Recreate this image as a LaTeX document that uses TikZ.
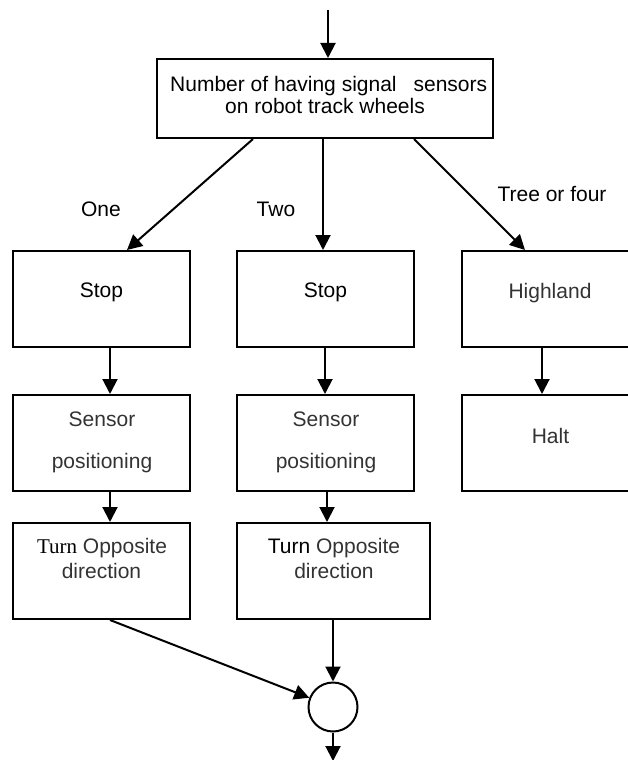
\documentclass[tikz,border=0pt]{standalone}
\usepackage{fontspec}
\setmainfont{Liberation Sans}
\newfontfamily\serifpart{Liberation Serif}
\usetikzlibrary{arrows.meta}
\begin{document}
\begin{tikzpicture}[x=1pt,y=-1pt,
  box/.style={draw, line width=2pt, rectangle, inner sep=0pt,
              minimum height=96pt, minimum width=177pt},
  txt/.style={anchor=base, inner sep=0pt, font=\fontsize{21}{24}\selectfont},
  soft/.style={text=black!80},
  flow/.style={line width=2pt, -{Triangle[length=15pt,width=15pt]}},
]
\useasboundingbox (0,0) rectangle (628,760);
\clip (0,0) rectangle (628,760);

% boxes
\node[box, minimum width=336pt, minimum height=79pt] (top) at (325,98.5) {};
\node[box] (s1) at (101.5,299) {};
\node[box] (s2) at (325.5,299) {};
\node[box] (hl) at (550.5,299) {};
\node[box] (p1) at (101.5,443) {};
\node[box] (p2) at (325.5,443) {};
\node[box] (ht) at (550.5,443) {};
\node[box] (t1) at (101.5,571) {};
\node[box, minimum width=193pt] (t2) at (333.5,571) {};
\node[draw, line width=2pt, circle, minimum size=49pt, inner sep=0pt] (c) at (333,707) {};

% texts
\node[txt, anchor=base west] (top1) at (170,92) {Number of having signal\hspace{17pt}sensors};
\node[txt] (top2) at (325,113.5) {on robot track wheels};
\node[txt] (lone) at (101,216) {One};
\node[txt] (ltwo) at (276,216) {Two};
\node[txt] (lthree) at (552,201) {Tree or four};
\node[txt] (x1) at (101.5,297) {Stop};
\node[txt] (x2) at (325.5,297) {Stop};
\node[txt, soft] (x3) at (550,298) {Highland};
\node[txt, soft] (y1a) at (102,426) {Sensor};
\node[txt, soft] (y1b) at (102,468) {positioning};
\node[txt, soft] (y2a) at (326,426) {Sensor};
\node[txt, soft] (y2b) at (326,468) {positioning};
\node[txt, soft] (y3) at (550.5,443) {Halt};
\node[txt] (z1a) at (102,553) {{\serifpart Turn} \textcolor{black!80}{Opposite}};
\node[txt, soft] (z1b) at (101.5,578) {direction};
\node[txt] (z2a) at (334,553) {Turn \textcolor{black!80}{Opposite}};
\node[txt, soft] (z2b) at (334,578) {direction};

% connectors
\coordinate (in) at (328,10);
\coordinate (out) at (333,761);
\draw[flow] (in) -- (in |- top.north);
\draw[flow] ([xshift=-72pt]top.south) -- ([xshift=25.5pt]s1.north);
\draw[flow] ([xshift=-2pt]top.south) -- ([xshift=-2.5pt]s2.north);
\draw[flow] ([xshift=89pt]top.south) -- ([xshift=-25.5pt]hl.north);
\draw[flow] ([xshift=8.5pt]s1.south) -- ([xshift=8.5pt]p1.north);
\draw[flow] ([xshift=-0.5pt]s2.south) -- ([xshift=-0.5pt]p2.north);
\draw[flow] ([xshift=-8.5pt]hl.south) -- ([xshift=-8.5pt]ht.north);
\draw[flow] ([xshift=8.5pt]p1.south) -- ([xshift=8.5pt]t1.north);
\draw[flow] ([xshift=1.5pt]p2.south) -- ([xshift=1.5pt]p2.south |- t2.north);
\draw[flow] ([xshift=8.5pt]t1.south) -- (c);
\draw[flow] (t2.south -| c) -- (c.north);
\draw[flow] (c.south) -- (out);
\end{tikzpicture}
\end{document}
